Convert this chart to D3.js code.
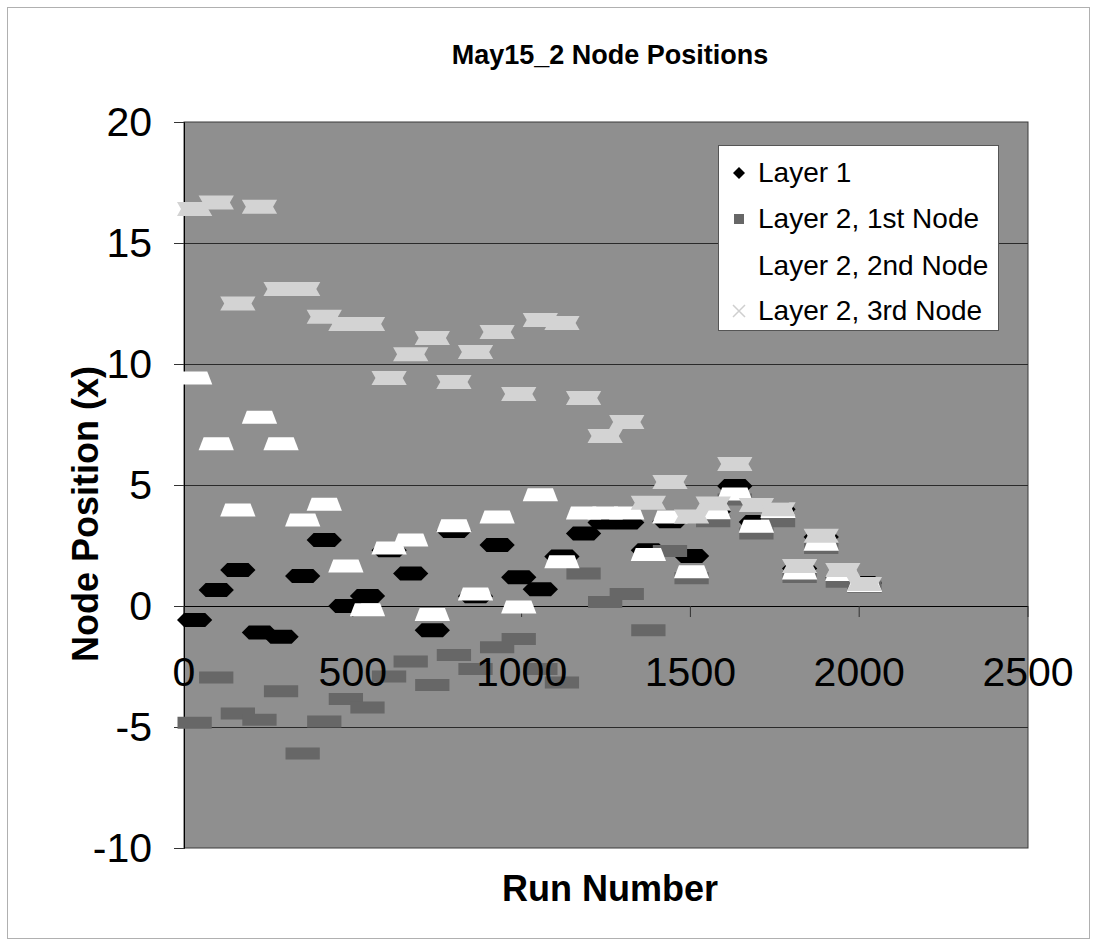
<!DOCTYPE html>
<html>
<head>
<meta charset="utf-8">
<script src="https://cdn.jsdelivr.net/npm/d3@7"></script>
<style>
  body { margin: 0; background: #ffffff; }
  svg { display: block; }
  text { font-family: "Liberation Sans", Arial, Helvetica, sans-serif; fill: #000; }
</style>
</head>
<body>
<svg id="chart" width="1097" height="947"></svg>
<script>
// First run number of each block; every run inside a block shares one node position.
const runStart = [0, 64, 128, 192, 256, 320, 384, 448, 512, 576, 640, 704, 768, 832, 896, 960,
                  1024, 1088, 1152, 1216, 1280, 1344, 1408, 1472, 1536, 1600, 1664, 1728, 1792, 1856, 1920, 1984];
const runsPerBlock = 64;

const layer1 = [-0.58, 0.66, 1.49, -1.1, -1.27, 1.24, 2.73, 0.0, 0.41, 2.3, 1.34, -1.0, 3.1, 0.4, 2.52, 1.19,
                0.69, 2.05, 3.0, 3.45, 3.45, 2.3, 3.5, 2.07, 3.9, 4.96, 3.47, 4.0, 1.55, 2.85, 1.2, 0.95];
const layer2Node1 = [-4.82, -2.95, -4.44, -4.7, -3.52, -6.1, -4.77, -3.84, -4.19, -2.91, -2.29, -3.26, -2.02, -2.6, -1.7, -1.36,
                     -2.6, -3.16, 1.34, 0.17, 0.5, -1.0, 2.27, 1.15, 3.5, 4.4, 3.0, 3.5, 1.2, 2.4, 1.0, 0.8];
const layer2Node2 = [9.42, 6.7, 3.97, 7.8, 6.7, 3.55, 4.2, 1.65, -0.15, 2.4, 2.73, -0.35, 3.32, 0.5, 3.68, -0.04,
                     4.6, 1.83, 3.84, 3.84, 3.84, 2.13, 3.68, 1.42, 3.85, 4.63, 3.3, 3.9, 1.36, 2.55, 1.3, 0.85];
const layer2Node3 = [16.4, 16.67, 12.5, 16.5, 13.1, 13.1, 11.95, 11.65, 11.65, 9.42, 10.4, 11.07, 9.26, 10.5, 11.32, 8.76,
                     11.82, 11.69, 8.6, 7.02, 7.6, 4.27, 5.12, 3.7, 4.24, 5.87, 4.17, 4.0, 1.65, 2.9, 1.49, 0.91];

const seriesNames = ["Layer 1", "Layer 2, 1st Node", "Layer 2, 2nd Node", "Layer 2, 3rd Node"];
const xTicks = [0, 500, 1000, 1500, 2000, 2500];
const yTicks = [-10, -5, 0, 5, 10, 15, 20];

const series = [
  { name: seriesNames[0], values: layer1,      shape: "diamond",  fill: "#000000" },
  { name: seriesNames[1], values: layer2Node1, shape: "square",   fill: "#676767" },
  { name: seriesNames[2], values: layer2Node2, shape: "triangle", fill: "#ffffff" },
  { name: seriesNames[3], values: layer2Node3, shape: "cross",    fill: "#d3d3d3" }
];

const svg = d3.select("#chart");
const plot = { left: 184, right: 1028, top: 122, bottom: 848 };

const x = d3.scaleLinear().domain([0, 2500]).range([plot.left, plot.right]);
const y = d3.scaleLinear().domain([-10, 20]).range([plot.bottom, plot.top]);

// outer chart frame
svg.append("rect")
  .attr("x", 7.5).attr("y", 7.5).attr("width", 1082).attr("height", 931)
  .attr("fill", "#ffffff").attr("stroke", "#b0b0b0").attr("stroke-width", 1);

// title
svg.append("text")
  .attr("x", 610).attr("y", 64)
  .attr("text-anchor", "middle")
  .attr("font-size", 27).attr("font-weight", "bold")
  .text("May15_2 Node Positions");

// plot area
svg.append("rect")
  .attr("x", plot.left).attr("y", plot.top)
  .attr("width", plot.right - plot.left).attr("height", plot.bottom - plot.top)
  .attr("fill", "#8f8f8f").attr("stroke", "#3a3a3a").attr("stroke-width", 1);

// horizontal gridlines
svg.append("g")
  .selectAll("line")
  .data(yTicks.filter(t => t !== -10 && t !== 20 && t !== 0))
  .join("line")
  .attr("x1", plot.left).attr("x2", plot.right)
  .attr("y1", d => Math.round(y(d)) + 0.5).attr("y2", d => Math.round(y(d)) + 0.5)
  .attr("stroke", "#2a2a2a").attr("stroke-width", 1);

// y axis
const yAxis = svg.append("g")
  .attr("transform", `translate(${plot.left},0)`)
  .call(d3.axisLeft(y).tickValues(yTicks).tickSize(10).tickPadding(22).tickFormat(d => String(d)));
yAxis.select(".domain").attr("stroke", "#000");
yAxis.selectAll(".tick line").attr("stroke", "#333");
yAxis.selectAll(".tick text")
  .attr("font-size", 41).attr("font-family", "Liberation Sans, Arial, sans-serif").attr("fill", "#000");

// smeared marker outline for a block of consecutive runs at one position
function blockPath(shape, x0, x1, cy) {
  switch (shape) {
    case "diamond":
      return `M${x0 - 7},${cy}L${x0},${cy - 7}L${x1},${cy - 7}L${x1 + 7},${cy}L${x1},${cy + 7}L${x0},${cy + 7}Z`;
    case "square":
      return `M${x0 - 6.5},${cy - 6}H${x1 + 6.5}V${cy + 6}H${x0 - 6.5}Z`;
    case "triangle":
      return `M${x0 - 7},${cy + 6.5}L${x0 - 2},${cy - 6.5}L${x1 + 2},${cy - 6.5}L${x1 + 7},${cy + 6.5}Z`;
    case "cross":
      return `M${x0 - 7},${cy - 7}H${x1 + 7}L${x1 + 3},${cy}L${x1 + 7},${cy + 7}H${x0 - 7}L${x0 - 3},${cy}Z`;
  }
  return "";
}

// x axis line along y = 0
svg.append("line")
  .attr("x1", plot.left).attr("x2", plot.right)
  .attr("y1", Math.round(y(0)) + 0.5).attr("y2", Math.round(y(0)) + 0.5)
  .attr("stroke", "#000").attr("stroke-width", 1);
svg.append("g")
  .selectAll("line")
  .data(xTicks)
  .join("line")
  .attr("x1", d => x(d)).attr("x2", d => x(d))
  .attr("y1", y(0)).attr("y2", y(0) + 11)
  .attr("stroke", "#333");

// data marks
series.forEach(s => {
  svg.append("g")
    .attr("class", "series")
    .selectAll("path")
    .data(s.values.map((v, i) => ({ start: runStart[i], value: v })))
    .join("path")
    .attr("d", d => blockPath(s.shape, x(d.start), x(d.start + runsPerBlock - 1), y(d.value)))
    .attr("fill", s.fill);
});

// x tick labels
svg.append("g")
  .selectAll("text")
  .data(xTicks)
  .join("text")
  .attr("x", d => x(d)).attr("y", 686)
  .attr("text-anchor", "middle")
  .attr("font-size", 41)
  .text(d => d);

// axis titles
svg.append("text")
  .attr("transform", "translate(98,514) rotate(-90)")
  .attr("text-anchor", "middle")
  .attr("font-size", 36).attr("font-weight", "bold")
  .text("Node Position (x)");

svg.append("text")
  .attr("x", 610).attr("y", 901)
  .attr("text-anchor", "middle")
  .attr("font-size", 36).attr("font-weight", "bold")
  .text("Run Number");

// legend
const legend = svg.append("g");
legend.append("rect")
  .attr("x", 718.5).attr("y", 145.5).attr("width", 280).attr("height", 185)
  .attr("fill", "#ffffff").attr("stroke", "#555").attr("stroke-width", 1);

const legendBaselines = [182, 228, 275, 320];
const legendRows = legend.selectAll("g.row")
  .data(series)
  .join("g")
  .attr("class", "row")
  .attr("transform", (d, i) => `translate(0,${legendBaselines[i]})`);

legendRows.append("text")
  .attr("x", 758).attr("y", 0)
  .attr("font-size", 28)
  .text(d => d.name);

legendRows.each(function (d) {
  const g = d3.select(this);
  const cx = 739, cy = -9;
  if (d.shape === "diamond") {
    g.append("path").attr("d", `M${cx - 6},${cy}L${cx},${cy - 6}L${cx + 6},${cy}L${cx},${cy + 6}Z`).attr("fill", d.fill);
  } else if (d.shape === "square") {
    g.append("rect").attr("x", cx - 5).attr("y", cy - 5).attr("width", 10).attr("height", 10).attr("fill", d.fill);
  } else if (d.shape === "triangle") {
    g.append("path").attr("d", `M${cx - 6},${cy + 5}L${cx},${cy - 6}L${cx + 6},${cy + 5}Z`).attr("fill", d.fill);
  } else {
    g.append("path").attr("d", `M${cx - 6},${cy - 6}L${cx + 6},${cy + 6}M${cx - 6},${cy + 6}L${cx + 6},${cy - 6}`)
      .attr("stroke", "#cfcfcf").attr("stroke-width", 1.5).attr("fill", "none");
  }
});
</script>
</body>
</html>
